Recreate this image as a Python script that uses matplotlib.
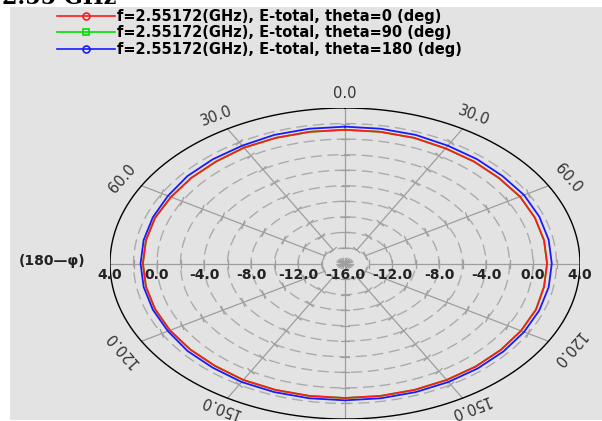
import numpy as np
import matplotlib
matplotlib.use("Agg")
import matplotlib.pyplot as plt
from matplotlib.lines import Line2D
from matplotlib.patches import Rectangle

# ---------------- data ----------------
angles_deg = [0, 10, 20, 30, 40, 50, 60, 70, 80, 90, 100, 110, 120, 130, 140, 150, 160, 170,
              180, 190, 200, 210, 220, 230, 240, 250, 260, 270, 280, 290, 300, 310, 320, 330, 340, 350, 360]
e_theta0 = [1.2, 1.2, 1.2, 1.1, 1.1, 1.1, 1.2, 1.2, 1.2, 1.2, 1.2, 1.3, 1.3, 1.3, 1.3, 1.3, 1.3, 1.3,
            1.3, 1.3, 1.3, 1.3, 1.2, 1.2, 1.2, 1.2, 1.2, 1.2, 1.2, 1.2, 1.1, 1.1, 1.1, 1.2, 1.2, 1.2, 1.2]
e_theta90 = e_theta0
e_theta180 = [1.6, 1.6, 1.6, 1.5, 1.5, 1.5, 1.6, 1.6, 1.6, 1.6, 1.6, 1.6, 1.6, 1.6, 1.6, 1.6, 1.6, 1.6,
              1.6, 1.6, 1.6, 1.6, 1.5, 1.5, 1.4, 1.4, 1.4, 1.4, 1.4, 1.4, 1.4, 1.5, 1.5, 1.5, 1.6, 1.6, 1.6]
series_labels = ["f=2.55172(GHz), E-total, theta=0 (deg)",
                 "f=2.55172(GHz), E-total, theta=90 (deg)",
                 "f=2.55172(GHz), E-total, theta=180 (deg)"]
r_min, r_max, r_step = -16.0, 4.0, 2.0
radial_tick_vals = [4.0, 0.0, -4.0, -8.0, -12.0, -16.0]
angle_tick_vals = [0, 30, 60, 120, 150, -30, -60, -120, -150]

# ---------------- figure ----------------
W, H = 602, 421
fig = plt.figure(figsize=(W / 100, H / 100), dpi=100)
fig.patch.set_facecolor("white")
fig.add_artist(Rectangle((10 / W, 1 / H), 592 / W, 413 / H, transform=fig.transFigure,
                         facecolor="#e3e3e3", edgecolor="none", zorder=0))
fig.text(2 / W, 1 - 4 / H, "2.55 GHz", fontsize=16, fontweight="bold", family="DejaVu Serif",
         va="baseline", ha="left", color="black")

# ellipse box in pixels
cx_px, cy_px = 345, 263.5
ax_px, ay_px = 235, 155.5
ax = fig.add_axes([(cx_px - ax_px) / W, (H - cy_px - ay_px) / H, 2 * ax_px / W, 2 * ay_px / H])
ax.set_xlim(-20, 20)
ax.set_ylim(-20, 20)
ax.axis("off")
ax.patch.set_alpha(0)

R = r_max - r_min
px_per_x = ax_px / R
px_per_y = ay_px / R

def to_xy(theta_deg, r):
    t = np.deg2rad(np.asarray(theta_deg, dtype=float))
    r = np.asarray(r, dtype=float)
    return r * np.sin(t), r * np.cos(t)

# grid rings
tt = np.linspace(0, 360, 721)
for rv in np.arange(r_step, R, r_step):
    x, y = to_xy(tt, np.full_like(tt, rv))
    ax.plot(x, y, color="#ababab", lw=1.0, ls=(0, (8, 4)), zorder=1)
x, y = to_xy(tt, np.full_like(tt, R))
ax.plot(x, y, color="black", lw=1.0, zorder=3)

# spokes with ticks
tick_px = 4.0
for a in range(0, 360, 30):
    x, y = to_xy([a, a], [r_step, R])
    ax.plot(x, y, color="#9e9e9e", lw=0.9, zorder=1)
    t = np.deg2rad(a)
    dx_px, dy_px = np.sin(t) * ax_px, np.cos(t) * ay_px
    n = np.hypot(dx_px, dy_px)
    px_, py_ = -dy_px / n, dx_px / n
    for rv in np.arange(r_step, R, r_step):
        x0, y0 = to_xy(a, rv)
        ax.plot([x0 - px_ * tick_px / px_per_x, x0 + px_ * tick_px / px_per_x],
                [y0 - py_ * tick_px / px_per_y, y0 + py_ * tick_px / px_per_y],
                color="#9e9e9e", lw=0.9, zorder=1)
# center star
for a in range(0, 360, 15):
    x, y = to_xy([a, a], [0, 0.7])
    ax.plot(x, y, color="#9e9e9e", lw=0.9, zorder=1)

# data curves
colors = ["#ff1a1a", "#00e000", "#1a1aff"]
order = [(e_theta90, 1), (e_theta0, 0), (e_theta180, 2)]
for vals, i in order:
    x, y = to_xy(angles_deg, np.asarray(vals) - r_min)
    ax.plot(x, y, color=colors[i], lw=1.3, zorder=4)

# radial labels
for v in radial_tick_vals:
    rv = v - r_min
    for side in (1, -1):
        if rv == 0 and side == -1:
            continue
        ax.text(side * rv, -11.5 / px_per_y, f"{v:.1f}", ha="center", va="center",
                fontsize=10, fontweight="bold", color="#222222", family="DejaVu Sans", zorder=5)
ax.text(-(ax_px + 58) / px_per_x, 2 / px_per_y, "(180\u2014\u03c6)", ha="center", va="center",
        fontsize=10, fontweight="bold", color="#222222", family="DejaVu Sans", zorder=5)

# angle labels
for a in angle_tick_vals:
    r_lab = 21.2 if abs(a) == 150 else 21.9
    x, y = to_xy(a, r_lab)
    t = np.deg2rad(a)
    rot = np.degrees(np.arctan2(-ay_px * np.sin(t), ax_px * np.cos(t)))
    ax.text(x, y, f"{abs(a):.1f}", ha="center", va="center", rotation=rot,
            rotation_mode="anchor", fontsize=10.5, color="#333333", family="DejaVu Sans", zorder=5)

# legend
handles = [Line2D([], [], color=colors[0], lw=1.2, marker="o", ms=5, mfc="none", mew=1.2),
           Line2D([], [], color=colors[1], lw=1.2, marker="s", ms=5, mfc="none", mew=1.2),
           Line2D([], [], color=colors[2], lw=1.2, marker="o", ms=5, mfc="none", mew=1.2)]
fig.legend(handles, series_labels, loc="upper left", bbox_to_anchor=(57 / W, 1 - 9 / H),
           frameon=False, numpoints=1, handlelength=4.0, handletextpad=0.1,
           labelspacing=0.1, borderaxespad=0, borderpad=0,
           prop={"family": "DejaVu Sans", "weight": "bold", "size": 10.5})

fig.savefig("out.png", dpi=100)
